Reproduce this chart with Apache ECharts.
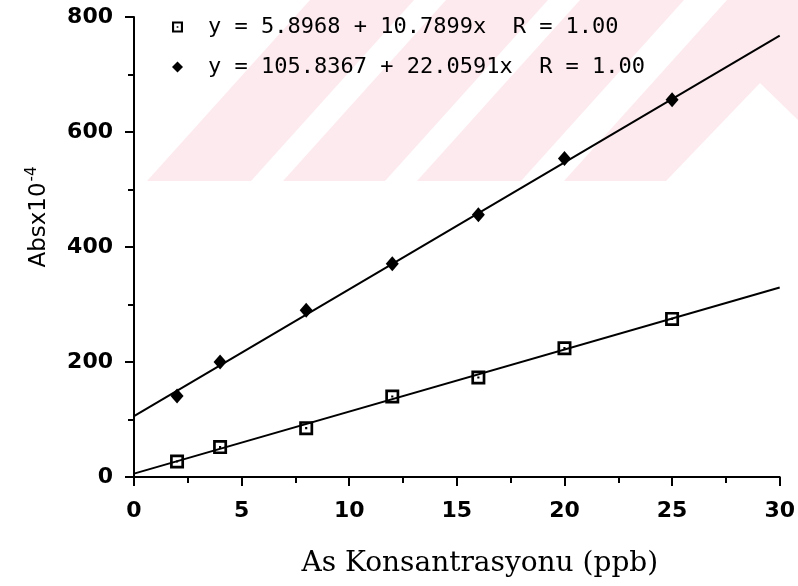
<!DOCTYPE html>
<html>
<head>
<meta charset="utf-8">
<script src="https://cdn.jsdelivr.net/npm/echarts@6/dist/echarts.min.js"></script>
<style>
html,body{margin:0;padding:0;background:#fff;}
#chart{width:798px;height:586px;}
</style>
</head>
<body>
<div id="chart"></div>
<script>
// Data
var concX = [2, 4, 8, 12, 16, 20, 25];
var seriesSquare = [27, 52, 85, 140, 173, 224, 275];
var seriesDiamond = [141, 200, 290, 371, 456, 554, 656];
var fitX = [0, 30];
var fitSquare = [5.9, 329.6];
var fitDiamond = [105.8, 767.6];
var nameSquare = 'y = 5.8968 + 10.7899x  R = 1.00';
var nameDiamond = 'y = 105.8367 + 22.0591x  R = 1.00';
var xTicks = {min: 0, max: 30, interval: 5};
var yTicks = {min: 0, max: 800, interval: 200};

function pairs(xs, ys){ return xs.map(function(x,i){ return [x, ys[i]]; }); }

var squarePath = 'path://M0,0 L13,0 L13,13 L0,13 Z M2.5,2.5 L2.5,10.5 L10.5,10.5 L10.5,2.5 Z M5.5,5.5 L7.5,5.5 L7.5,7.5 L5.5,7.5 Z';
var pink = '#fdeaee';

var chart = echarts.init(document.getElementById('chart'), null, {renderer:'canvas'});
var labelFont = 'DejaVu Sans';

chart.setOption({
  backgroundColor: '#fff',
  animation: false,
  graphic: [
    {type:'polygon', z:-10, shape:{points:[[147,181],[251,181],[414,0],[310,0]]}, style:{fill:pink}},
    {type:'polygon', z:-10, shape:{points:[[283,181],[385,181],[548,0],[446,0]]}, style:{fill:pink}},
    {type:'polygon', z:-10, shape:{points:[[417,181],[521,181],[684,0],[580,0]]}, style:{fill:pink}},
    {type:'polygon', z:-10, shape:{points:[[564,181],[666,181],[760,83],[798,120],[798,0],[727,0]]}, style:{fill:pink}}
  ],
  grid: {left: 134, right: 14, top: 17, bottom: 109, containLabel: false},
  legend: {
    orient: 'vertical',
    left: 167,
    top: 11,
    itemWidth: 11,
    itemHeight: 11,
    itemGap: 18,
    textStyle: {fontFamily: 'DejaVu Sans Mono', fontSize: 22, color: '#000', padding: [0,0,0,20]},
    data: [
      {name: nameSquare, icon: squarePath, itemStyle: {color: '#000', opacity: 1}},
      {name: nameDiamond, icon: 'diamond', itemStyle: {color: '#000', opacity: 1}}
    ]
  },
  xAxis: {
    type: 'value',
    min: xTicks.min, max: xTicks.max, interval: xTicks.interval,
    name: 'As Konsantrasyonu (ppb)',
    nameLocation: 'middle',
    nameGap: 73,
    nameTextStyle: {fontFamily: 'DejaVu Serif', fontSize: 28, color: '#000', padding: [0,0,0,46]},
    axisLine: {show: true, onZero: false, lineStyle: {color: '#000', width: 2}},
    axisTick: {show: true, length: 9, lineStyle: {color: '#000', width: 2}},
    minorTick: {show: true, splitNumber: 2, length: 6, lineStyle: {color: '#000', width: 2}},
    axisLabel: {fontFamily: labelFont, fontWeight: 'bold', fontSize: 22, color: '#000', margin: 23},
    splitLine: {show: false}
  },
  yAxis: {
    type: 'value',
    min: yTicks.min, max: yTicks.max, interval: yTicks.interval,
    name: '{a|Absx10}{s|-4}',
    nameLocation: 'middle',
    nameRotate: 90,
    nameGap: 80,
    nameTextStyle: {
      padding: [0,0,0,60],
      rich: {
        a: {fontFamily: labelFont, fontSize: 23, color: '#000'},
        s: {fontFamily: labelFont, fontSize: 15, color: '#000', padding: [0,0,14,1]}
      }
    },
    axisLine: {show: true, onZero: false, lineStyle: {color: '#000', width: 2}},
    axisTick: {show: true, length: 9, lineStyle: {color: '#000', width: 2}},
    minorTick: {show: true, splitNumber: 2, length: 6, lineStyle: {color: '#000', width: 2}},
    axisLabel: {fontFamily: labelFont, fontWeight: 'bold', fontSize: 22, color: '#000', margin: 21},
    splitLine: {show: false}
  },
  series: [
    {type:'line', data: pairs(fitX, fitSquare), symbol:'none', silent:true, z:1,
     lineStyle:{color:'#000', width:2}},
    {type:'line', data: pairs(fitX, fitDiamond), symbol:'none', silent:true, z:1,
     lineStyle:{color:'#000', width:2}},
    {type:'scatter', name: nameSquare, data: pairs(concX, seriesSquare), symbol: squarePath,
     symbolSize: 14, itemStyle:{color:'#000', opacity: 1}, z:3},
    {type:'scatter', name: nameDiamond, data: pairs(concX, seriesDiamond), symbol: 'diamond',
     symbolSize: [13,15], itemStyle:{color:'#000', opacity: 1}, z:3}
  ]
});
</script>
</body>
</html>
